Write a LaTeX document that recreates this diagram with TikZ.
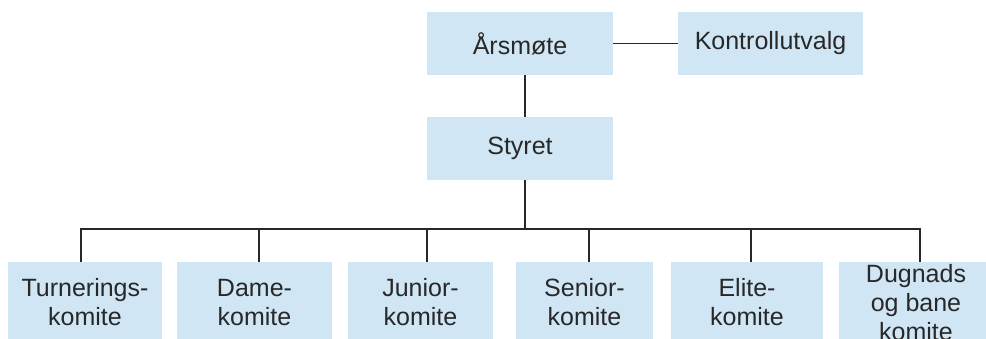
\documentclass[tikz,border=0pt]{standalone}
\usepackage{fontspec}
\setmainfont{Liberation Sans}
\definecolor{boxblue}{RGB}{208,230,245}
\definecolor{inkgray}{RGB}{40,40,40}

\begin{document}
\begin{tikzpicture}[x = 1pt, y = -1pt,
    box/.style = {fill = boxblue, inner sep = 0pt, align = center,
                  text = inkgray, font = \fontsize{25}{29}\selectfont},
    conn/.style = {draw = inkgray, line width = 1.4pt}]
        \useasboundingbox (0,0) rectangle (986,339);

        \node[box, minimum width = 186, minimum height = 63] (aarsmote) at (520,43.5) {Årsmøte};
        \node[box, minimum width = 185, minimum height = 63] (kontroll) at (770.5,43.5) {Kontrollutvalg};
        \node[box, minimum width = 186, minimum height = 63] (styret) at (520,148.5) {Styret};

        \node[box, minimum width = 154, minimum height = 81] (b1) at (85,302.5) {Turnerings-\\komite};
        \node[box, minimum width = 155, minimum height = 81] (b2) at (254.5,302.5) {Dame-\\komite};
        \node[box, minimum width = 145, minimum height = 81] (b3) at (420.5,302.5) {Junior-\\komite};
        \node[box, minimum width = 137, minimum height = 81] (b4) at (584.5,302.5) {Senior-\\komite};
        \node[box, minimum width = 152, minimum height = 81] (b5) at (747,302.5) {Elite-\\komite};
        \node[box, minimum width = 154, minimum height = 81] (b6) at (916,302.5) {Dugnads\\og bane\\komite};

        \draw[conn] (aarsmote.east) -- (kontroll.west);
        \draw[conn] ([xshift = 5pt]aarsmote.south) -- ([xshift = 5pt]styret.north);
        \draw[conn] ([xshift = 5pt]styret.south) -- ++(0,49) coordinate (bus);
        \foreach \n/\dx in {1/-4, 2/4.5, 3/6.5, 4/4.5, 5/4, 6/4}
            \draw[conn] (bus) -| ([xshift = \dx pt]b\n.north);
      \end{tikzpicture}
\end{document}
